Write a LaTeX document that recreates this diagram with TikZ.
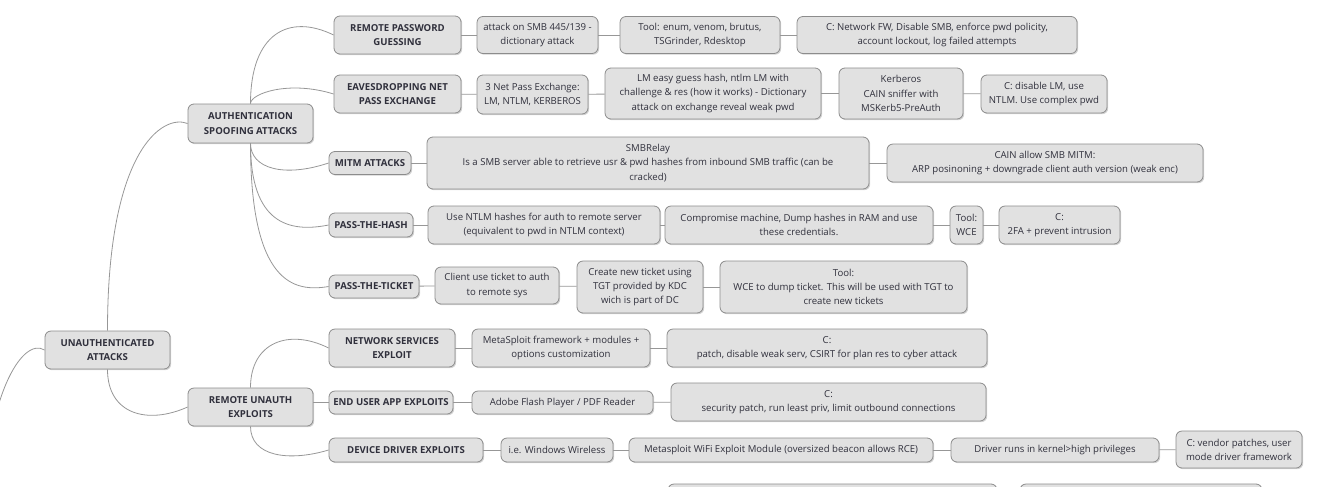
\documentclass[tikz,border=0pt]{standalone}
\usepackage{fontspec}
\setmainfont{Open Sans}
\usetikzlibrary{shadows}

\definecolor{topic fill}{HTML}{E1E1E1}
\definecolor{topic line}{HTML}{8C8C8C}
\definecolor{topic text}{HTML}{30303C}
\definecolor{branch line}{HTML}{979797}

\begin{document}
\begin{tikzpicture}[x=.75pt,y=-.75pt]
\def\fs{\fontsize{7.2}{10.6}\selectfont}
\tikzset{
  every node/.style={font=\fs,text=topic text},
  box/.style 2 args={draw=topic line,fill=topic fill,line width=.6pt,
    rounded corners=4.5pt,inner sep=0pt,align=center,
    minimum width=#1*.75pt,minimum height=#2*.75pt,
    drop shadow={shadow xshift=.9pt,shadow yshift=-.9pt,opacity=.35}},
  main/.style 2 args={box={#1}{#2},font=\fs\bfseries},
  link/.style={draw=branch line,line width=.6pt}
}
\useasboundingbox (0,0) rectangle (1331,486);
\clip (0,0) rectangle (1331,486);

%ROOT
\coordinate (root) at (-15,510);
\node[main={125}{38}] (unauth) at (107.5,350) {UNAUTHENTICATED\\ATTACKS};

%CATEGORIES
\node[main={125}{39}] (auth) at (250.5,123.5) {AUTHENTICATION\\SPOOFING ATTACKS};
\node[main={125}{38}] (remexp) at (250.5,407) {REMOTE UNAUTH\\EXPLOITS};

%ATTACKS
\node[main={127}{38}] (rpg) at (397.5,35) {REMOTE PASSWORD\\GUESSING};
\node[main={127}{38}] (eav) at (397.5,94) {EAVESDROPPING NET\\PASS EXCHANGE};
\node[main={82}{23}] (mitm) at (370,163) {MITM ATTACKS};
\node[main={84}{24}] (pth) at (371,225) {PASS-THE-HASH};
\node[main={90}{23}] (ptt) at (374,286.5) {PASS-THE-TICKET};
\node[main={126}{38}] (nse) at (392,348) {NETWORK SERVICES\\EXPLOIT};
\node[main={124}{23}] (eua) at (391,402.5) {END USER APP EXPLOITS};
\node[main={154}{24}] (dde) at (406,450) {DEVICE DRIVER EXPLOITS};

%DETAILS
\node[box={121}{37}] (rpg1) at (537.5,35) {attack on SMB 445/139 -\\dictionary attack};
\node[box={160}{37}] (rpg2) at (700,35) {Tool: enum, venom, brutus,\\TSGrinder, Rdesktop};
\node[box={280}{37}] (rpg3) at (937,35) {C: Network FW, Disable SMB, enforce pwd policity,\\account lockout, log failed attempts};

\node[box={111}{39}] (eav1) at (532.5,94.5) {3 Net Pass Exchange:\\LM, NTLM, KERBEROS};
\node[box={216}{51}] (eav2) at (713,93.5) {LM easy guess hash, ntlm LM with\\challenge \& res (how it works) - Dictionary\\attack on exchange reveal weak pwd};
\node[box={124}{51}] (eav3) at (901,93.5) {Kerberos\\CAIN sniffer with\\MSKerb5-PreAuth};
\node[box={126}{38}] (eav4) at (1044,94) {C: disable LM, use\\NTLM. Use complex pwd};

\node[box={442}{52}] (mitm1) at (648,163) {SMBRelay\\Is a SMB server able to retrieve usr \& pwd hashes from inbound SMB traffic (can be\\cracked)};
\node[box={316}{38}] (mitm2) at (1045,163) {CAIN allow SMB MITM:\\ARP posinoning + downgrade client auth version (weak enc)};

\node[box={232}{38}] (pth1) at (544,225) {Use NTLM hashes for auth to remote server\\(equivalent to pwd in NTLM context)};
\node[box={268}{38}] (pth2) at (799,225) {Compromise machine, Dump hashes in RAM and use\\these credentials.};
\node[box={33}{38}] (pth3) at (966.5,225) {Tool:\\WCE};
\node[box={121}{38}] (pth4) at (1059.5,225) {C:\\2FA + prevent intrusion};

\node[box={124}{37}] (ptt1) at (497,285.5) {Client use ticket to auth\\to remote sys};
\node[box={126}{52}] (ptt2) at (640,287) {Create new ticket using\\TGT provided by KDC\\wich is part of DC};
\node[box={247}{52}] (ptt3) at (843.5,287) {Tool:\\WCE to dump ticket. This will be used with TGT to\\create new tickets};

\node[box={178}{38}] (nse1) at (561,348) {MetaSploit framework + modules +\\options customization};
\node[box={320}{38}] (nse2) at (827,348) {C:\\patch, disable weak serv, CSIRT for plan res to cyber attack};

\node[box={181}{23}] (eua1) at (562.5,402.5) {Adobe Flash Player / PDF Reader};
\node[box={315}{38}] (eua2) at (828.5,402) {C:\\security patch, run least priv, limit outbound connections};

\node[box={112}{24}] (dde1) at (557,450) {i.e. Windows Wireless};
\node[box={304}{24}] (dde2) at (781,450) {Metasploit WiFi Exploit Module (oversized beacon allows RCE)};
\node[box={208}{24}] (dde3) at (1055,450) {Driver runs in kernel>high privileges};
\node[box={126}{37}] (dde4) at (1239,449.5) {C: vendor patches, user\\mode driver framework};

%NEXT ROW (cut off)
\node[box={329}{38}] (next1) at (832.5,503) {};
\node[box={242}{38}] (next2) at (1141,503) {};

%PATHS
\path[link] (root) .. controls +(0,-110) and +(-23,-14) .. (unauth.west);
\path[link] (unauth.north) .. controls +(0,-180) and +(-25,-10) .. (auth.west);
\path[link] (unauth.south) .. controls +(0,45) and +(-40,18) .. (remexp.west);
%%auth
\path[link] (auth.north) .. controls +(0,-70) and +(-45,-22) .. (rpg.west);
\path[link] (auth.north) .. controls +(0,-10) and +(-45,-14) .. (eav.west);
\path[link] (auth.south) .. controls +(0,25) and +(-45,15) .. (mitm.west);
\path[link] (auth.south) .. controls +(0,80) and +(-40,8) .. (pth.west);
\path[link] (auth.south) .. controls +(0,140) and +(-35,6) .. (ptt.west);
%%exploits
\path[link] (remexp.north) .. controls +(0,-45) and +(-40,-20) .. (nse.west);
\path[link] (eua.west -| remexp.east) -- (eua.west);
\path[link] (remexp.south) .. controls +(0,30) and +(-40,12) .. (dde.west);
%%chains
\foreach \a/\b in {rpg/rpg1,rpg1/rpg2,rpg2/rpg3,
    eav/eav1,eav1/eav2,eav2/eav3,eav3/eav4,
    mitm/mitm1,mitm1/mitm2,
    pth/pth1,pth1/pth2,pth2/pth3,pth3/pth4,
    ptt/ptt1,ptt1/ptt2,ptt2/ptt3,
    nse/nse1,nse1/nse2,
    eua/eua1,eua1/eua2,
    dde/dde1,dde1/dde2,dde2/dde3,dde3/dde4}
  \path[link] (\a) -- (\b);

\end{tikzpicture}
\end{document}
